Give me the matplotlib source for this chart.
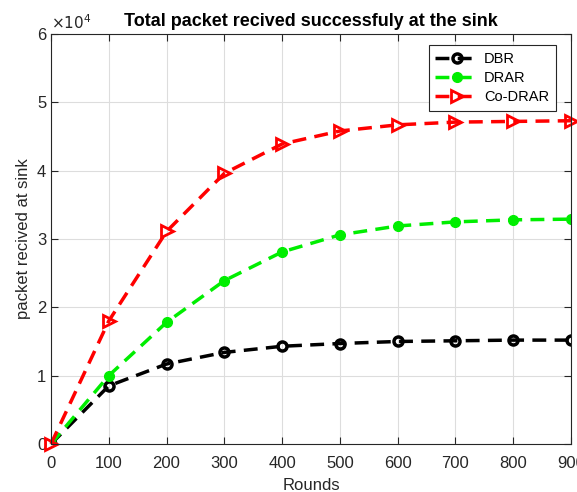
import matplotlib
matplotlib.use("Agg")
import matplotlib.pyplot as plt
from matplotlib.ticker import FuncFormatter

plt.rcParams['font.family'] = ['Liberation Sans', 'DejaVu Sans']

rounds = [0, 100, 200, 300, 400, 500, 600, 700, 800, 900]
dbr = [0, 8500, 11700, 13400, 14300, 14700, 15000, 15100, 15200, 15200]
drar = [0, 10000, 17800, 23900, 28100, 30600, 31900, 32500, 32800, 32900]
co_drar = [0, 18000, 31100, 39600, 43900, 45800, 46700, 47100, 47200, 47300]

fig = plt.figure(figsize=(5.77, 4.92), dpi=100)
ax = fig.add_axes([0.0884, 0.0976, 0.9012, 0.8334])

ax.plot(rounds, dbr, '--o', color='black', lw=2.5, ms=6.5, mfc='none', mew=2.5,
        dashes=(4, 2.4), label='DBR')
ax.plot(rounds, drar, '--o', color='#00ee00', lw=2.5, ms=7, mfc='#00ee00',
        dashes=(4, 2.4), label='DRAR')
ax.plot(rounds, co_drar, '-->', color='red', lw=2.5, ms=9, mfc='none', mew=2,
        dashes=(4, 2.4), label='Co-DRAR', clip_on=False)

ax.set_xlim(0, 900)
ax.set_ylim(0, 60000)
ax.set_xticks(rounds)
ax.set_yticks([0, 10000, 20000, 30000, 40000, 50000, 60000])
ax.yaxis.set_major_formatter(FuncFormatter(lambda v, p: '%d' % round(v / 1e4)))
ax.tick_params(direction='in', top=True, right=True, labelsize=12,
               colors='#262626', length=5)
ax.tick_params(axis='x', pad=9)
ax.grid(True, color='#dddddd', lw=0.8)
for s in ax.spines.values():
    s.set_color('#262626')
    s.set_linewidth(0.8)

ax.text(0.0, 1.005, r'$\times10^{4}$', transform=ax.transAxes, fontsize=11,
        color='#262626', va='bottom', ha='left')
ax.set_title('Total packet recived successfuly at the sink', fontsize=13,
             fontweight='bold', pad=6)
ax.set_xlabel('Rounds', fontsize=12, color='#262626', labelpad=5)
ax.set_ylabel('packet recived at sink', fontsize=12, color='#262626', labelpad=4)

leg = ax.legend(loc='upper right', bbox_to_anchor=(0.985, 0.99), fontsize=10.5,
                fancybox=False, framealpha=1, edgecolor='#262626',
                handlelength=3.0, borderpad=0.45, labelspacing=0.35,
                handletextpad=0.35)
leg.get_frame().set_linewidth(0.8)

fig.savefig('out.png', dpi=100)
